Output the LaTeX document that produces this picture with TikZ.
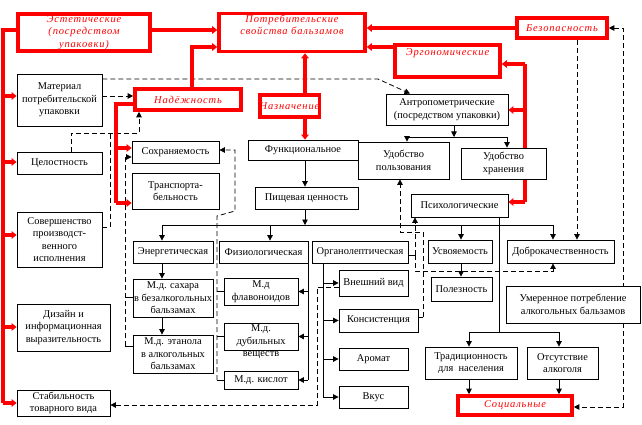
\documentclass[tikz,border=0pt]{standalone}
\usepackage{fontspec}
\setmainfont{Liberation Serif}
\newfontfamily\redfnt[LetterSpace=8]{Liberation Serif}
\usetikzlibrary{arrows.meta,backgrounds}
\tikzset{
 bx/.style={draw=black, line width=0.8pt, fill=white, align=center, inner sep=0.5pt, font=\fontsize{10.4}{12.5}\selectfont},
 rbx/.style={draw=red, line width=3.6pt, fill=white, align=center, inner sep=1pt, text=red, font=\redfnt\itshape\fontsize{10.5}{12.5}\selectfont},
 txt/.style={align=center, inner sep=0pt, font=\fontsize{10.4}{12.5}\selectfont},
 redln/.style={draw=red, line width=3.4pt},
 redarr/.style={redln, -{Triangle[length=5pt,width=7.5pt]}},
 blk/.style={draw=black, line width=0.8pt},
 arr/.style={blk, -{Triangle[length=5.5pt,width=5.5pt]}},
 dsh/.style={blk, dash pattern=on 5pt off 3pt},
 darr/.style={dsh, -{Triangle[length=5.5pt,width=5.5pt]}},
}
\begin{document}
\begin{tikzpicture}[x=1pt,y=-1pt]
\useasboundingbox (0,0) rectangle (642,425);
% red boxes
\node[rbx, minimum width=132pt, minimum height=37pt] (est) at (84,32.5) {Эстетические\\(посредством\\упаковки)};
\node[rbx, minimum width=146pt, minimum height=37pt, text depth=16pt] (potr) at (292,32.5) {Потребительские\\свойства бальзамов};
\node[rbx, minimum width=90pt, minimum height=20pt] (bez) at (562,28) {Безопасность};
\node[rbx, minimum width=105pt, minimum height=32pt, text depth=18pt] (erg) at (447.5,61) {Эргономические};
\node[rbx, minimum width=106pt, minimum height=21pt] (nad) at (188,99.5) {Надёжность};
\node[rbx, minimum width=55pt, minimum height=22pt, inner sep=0pt] (naz) at (289.5,106) {Назначение};
\node[rbx, minimum width=114pt, minimum height=19pt] (soc) at (515,405.5) {Социальные};
% black boxes
\node[bx, minimum width=85pt, minimum height=52pt] (mat) at (59.5,100) {Материал\\потребительской\\упаковки};
\node[bx, minimum width=85pt, minimum height=22pt] (cel) at (59.5,163) {Целостность};
\node[bx, minimum width=85pt, minimum height=55pt] (sov) at (59.5,239.5) {Совершенство\\производст-\\венного\\исполнения};
\node[bx, minimum width=93pt, minimum height=47pt] (diz) at (63.5,327.5) {Дизайн и\\информационная\\выразительность};
\node[bx, minimum width=93pt, minimum height=26pt] (stab) at (63.5,403) {Стабильность\\товарного вида};
\node[bx, minimum width=87pt, minimum height=22pt] (sokh) at (175.5,152) {Сохраняемость};
\node[bx, minimum width=87pt, minimum height=36pt] (trans) at (175.5,191) {Транспорта-\\бельность};
\node[bx, minimum width=110pt, minimum height=20pt] (func) at (303,150) {Функциональное};
\node[bx, minimum width=103pt, minimum height=22pt] (pish) at (306.5,198) {Пищевая ценность};
\node[bx, minimum width=122pt, minimum height=31pt] (antr) at (447,109.5) {Антропометрические\\(посредством упаковки)};
\node[bx, minimum width=91pt, minimum height=37pt] (udp) at (403.5,160.5) {Удобство\\пользования};
\node[bx, minimum width=85pt, minimum height=31pt] (udh) at (503.5,163.5) {Удобство\\хранения};
\node[bx, minimum width=97pt, minimum height=23pt] (psy) at (459.5,205.5) {Психологические};
\node[bx, minimum width=80pt, minimum height=22pt] (energ) at (173,252) {Энергетическая};
\node[bx, minimum width=89pt, minimum height=22pt] (fiz) at (263.5,252) {Физиологическая};
\node[bx, minimum width=96pt, minimum height=22pt] (org) at (360,252) {Органолептическая};
\node[bx, minimum width=64pt, minimum height=23pt] (usv) at (460,251.5) {Усвояемость};
\node[bx, minimum width=107pt, minimum height=23pt] (dobr) at (560.5,251.5) {Доброкачественность};
\node[bx, minimum width=80pt, minimum height=38pt] (sah) at (173,298) {М.д. сахара\\в безалкогольных\\бальзамах};
\node[bx, minimum width=80pt, minimum height=38pt] (etan) at (173,354) {М.д. этанола\\в алкогольных\\бальзамах};
\node[bx, minimum width=74pt, minimum height=27pt] (flav) at (261,291.5) {М.д\\флавоноидов};
\node[bx, minimum width=74pt, minimum height=27pt] (dub) at (261,336.5) {};
\node[txt] (dubt) at (261,342) {М.д.\\дубильных\\веществ};
\node[bx, minimum width=74pt, minimum height=18pt] (kisl) at (261,380) {М.д. кислот};
\node[bx, minimum width=69pt, minimum height=26pt] (vnesh) at (373.5,283) {Внешний вид};
\node[bx, minimum width=79pt, minimum height=23pt] (kons) at (378.5,320.5) {Консистенция};
\node[bx, minimum width=69pt, minimum height=22pt] (arom) at (373.5,359) {Аромат};
\node[bx, minimum width=69pt, minimum height=22pt] (vkus) at (373.5,397) {Вкус};
\node[bx, minimum width=61pt, minimum height=24pt] (pol) at (461.5,289) {Полезность};
\node[bx, minimum width=134pt, minimum height=37pt] (umer) at (573,304.5) {Умеренное потребление\\алкогольных бальзамов};
\node[bx, minimum width=92pt, minimum height=32pt] (trad) at (471,363) {Традиционность\\для\ \ населения};
\node[bx, minimum width=71pt, minimum height=32pt] (ots) at (562.5,363) {Отсутствие\\алкоголя};

\begin{pgfonlayer}{background}
\fill[white] (0,0) rectangle (642,425);
% dashed connectors
\coordinate (D1a) at (378,79);
\draw[darr] (mat.east |- D1a) -- (D1a) -- ([xshift=-37pt]antr.north);
\coordinate (D2a) at (102,96);
\draw[darr] (mat.east |- D2a) -- (D2a -| nad.west);
\coordinate (D3a) at (71,133);
\coordinate (D3b) at (139,133);
\draw[darr] (D3a |- cel.north) -- (D3a) -- (D3b) -- (D3b |- nad.south);
\coordinate (D3c) at (110,227);
\draw[dsh] (D3c -| sov.east) -- (D3c) -- (D3c |- D3a);
\coordinate (D4a) at (125,157);
\coordinate (D4b) at (125,346);
\coordinate (D4c) at (125,297);
\draw[darr] (D4b) -- (D4a) -- (D4a -| sokh.west);
\draw[blk] (D4b) -- (D4b -| etan.west);
\draw[blk] (D4c) -- (D4c -| sah.west);
\coordinate (D5a) at (217,380);
\coordinate (D5b) at (217,216);
\coordinate (D5c) at (235,211);
\coordinate (D5d) at (235,150);
\draw[darr] (D5a) -- (D5b) -- (D5c) -- (D5d) -- (D5d -| sokh.east);
\draw[blk] (flav.west) -- (flav.west -| D5a);
\draw[blk] (dub.west) -- (dub.west -| D5a);
\draw[blk] (kisl.west) -- (kisl.west -| D5a);
\coordinate (D6a) at (317,287);
\coordinate (D6b) at (317,405);
\draw[darr] (D6a -| vnesh.west) -- (D6a) -- (D6b) -- (D6b -| stab.east);
\coordinate (D7a) at (415,255);
\coordinate (D7c) at (553,271);
\draw[blk] (org.east |- D7a) -- (D7a);
\draw[darr] (D7a) -- (D7a |- psy.south);
\draw[darr] (D7a) -- (D7a |- D7c) -- (D7c) -- (D7c |- dobr.south);
\coordinate (D8a) at (423,317);
\coordinate (D8b) at (423,232);
\coordinate (D8c) at (400,232);
\draw[blk] (kons.east |- D8a) -- (D8a);
\draw[darr] (D8a) -- (D8b) -- (D8c) -- (D8c |- udp.south);
\coordinate (D9) at (577,40);
\draw[darr] (D9 |- bez.south) -- (D9 |- dobr.north);
\coordinate (D10a) at (623,28);
\coordinate (D10b) at (623,407);
\draw[dsh, {Triangle[length=5.5pt,width=5.5pt]}-{Triangle[length=5.5pt,width=5.5pt]}] (D10a -| bez.east) -- (D10a) -- (D10b) -- (D10b -| soc.east);
% black solid connectors
\coordinate (A1) at (454,137);
\coordinate (A2) at (407,137);
\coordinate (A3) at (507,137);
\draw[arr] (A1 |- antr.south) -- (A1);
\draw[blk] (A2) -- (A3);
\draw[arr] (A2) -- (A2 |- udp.north);
\draw[arr] (A3) -- (A3 |- udh.north);
\coordinate (V1) at (305,80);
\draw[arr] (V1 |- func.south) -- (V1 |- pish.north);
\coordinate (P1) at (305,225);
\draw[arr] (V1 |- pish.south) -- (P1);
\coordinate (P0) at (162,225);
\coordinate (P2) at (270,225);
\coordinate (P3) at (461,225);
\coordinate (P5) at (553,225);
\draw[blk] (P0) -- (P5);
\draw[arr] (P0) -- (P0 |- energ.north);
\draw[arr] (P2) -- (P2 |- fiz.north);
\draw[arr] (P3) -- (P3 |- usv.north);
\draw[arr] (P5) -- (P5 |- dobr.north);
\draw[arr] (P0 |- energ.south) -- (P0 |- sah.north);
\draw[arr] (P0 |- sah.south) -- (P0 |- etan.north);
\draw[blk] (fiz.south east) -- (fiz.south east |- kisl.east);
\draw[arr] (fiz.south east |- flav.east) -- (flav.east);
\draw[arr] (fiz.south east |- dub.east) -- (dub.east);
\draw[arr] (fiz.south east |- kisl.east) -- (kisl.east);
\coordinate (O1) at (323,263);
\draw[blk] (O1) -- (O1 |- vkus.west);
\draw[arr] (O1 |- vnesh.west) -- (vnesh.west);
\draw[arr] (O1 |- kons.west) -- (kons.west);
\draw[arr] (O1 |- arom.west) -- (arom.west);
\draw[arr] (O1 |- vkus.west) -- (vkus.west);
\draw[arr] (P3 |- usv.south) -- (P3 |- pol.north);
\coordinate (S0) at (499,332);
\coordinate (S1) at (469,332);
\coordinate (S2) at (559,332);
\draw[blk] (S0 |- psy.south) -- (S0);
\draw[blk] (S1) -- (S2);
\draw[arr] (S1) -- (S1 |- trad.north);
\draw[arr] (S2) -- (S2 |- ots.north);
\draw[arr] (S1 |- trad.south) -- (S1 |- soc.north);
\draw[arr] (S2 |- ots.south) -- (S2 |- soc.north);
% red connectors
\coordinate (Ltop) at (3,30);
\coordinate (Lbot) at (3,403);
\draw[redln] (Ltop -| est.west) -- (Ltop) -- (Lbot);
\foreach \n/\yy in {mat/96, cel/162, sov/235, diz/327, stab/403} {
  \coordinate (tmp) at (3,\yy);
  \draw[redarr] (tmp) -- (tmp -| \n.west);
}
\draw[redarr] ([yshift=2.5pt]est.east) -- ([yshift=2.5pt]est.east -| potr.west);
\coordinate (N1) at (192,47);
\draw[redarr] (N1 |- nad.north) -- (N1) -- (N1 -| potr.west);
\draw[redarr] (bez.west) -- (bez.west -| potr.east);
\coordinate (E1) at (393,47);
\draw[redarr] (E1 -| erg.west) -- (E1 -| potr.east);
\draw[redarr] (V1 |- naz.north) -- (V1 |- potr.south);
\draw[redarr] (V1 |- naz.south) -- (V1 |- func.north);
\coordinate (N2) at (116,104);
\coordinate (N3) at (116,148);
\coordinate (N4) at (116,203);
\draw[redln] (N2 -| nad.west) -- (N2) -- (N4);
\draw[redarr] (N3) -- (N3 -| sokh.west);
\draw[redarr] (N4) -- (N4 -| trans.west);
\coordinate (E2) at (525,64);
\coordinate (E3) at (525,202);
\coordinate (E4) at (525,110);
\draw[redln] (E2) -- (E3);
\draw[redarr] (E2) -- (E2 -| erg.east);
\draw[redarr] (E4) -- (E4 -| antr.east);
\draw[redarr] (E3) -- (E3 -| psy.east);
\end{pgfonlayer}
\end{tikzpicture}
\end{document}
